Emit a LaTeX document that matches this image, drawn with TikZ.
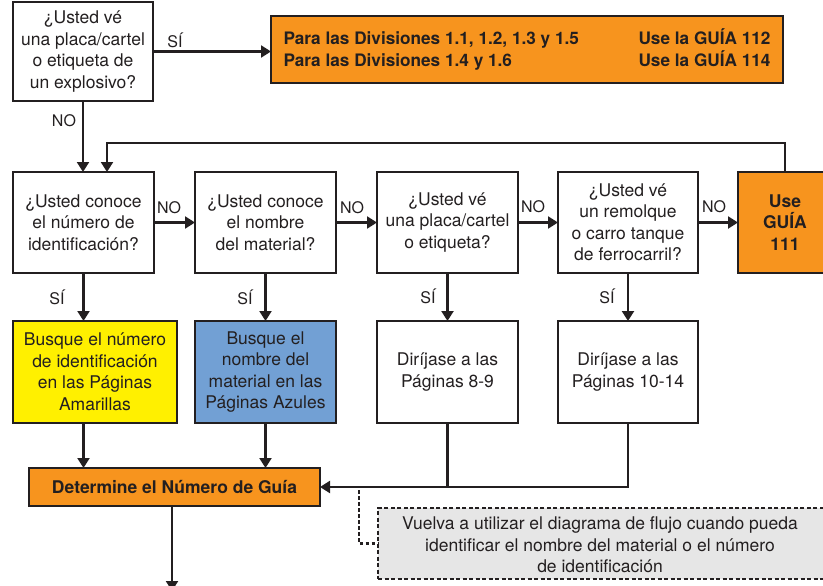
\documentclass[tikz,border=0pt]{standalone}
\usepackage{fontspec}
\setmainfont{TeX Gyre Heros}
\usetikzlibrary{arrows.meta}
\definecolor{ink}{RGB}{35,31,32}
\definecolor{guideorange}{RGB}{247,148,30}
\definecolor{idyellow}{RGB}{255,240,0}
\definecolor{nameblue}{RGB}{114,160,212}
\definecolor{notegray}{RGB}{230,230,230}
\begin{document}
\begin{tikzpicture}[x=1pt,y=-1pt,
  box/.style={draw=ink, line width=2.6pt, fill=white, text=ink, inner sep=0pt,
    outer sep=0pt, align=center, font=\fontsize{17.5}{21.5}\selectfont},
  sized/.style 2 args={minimum width=#1pt, minimum height=#2pt},
  guide/.style={box, fill=guideorange, font=\bfseries\fontsize{17.5}{21.5}\selectfont},
  link/.style={draw=ink, line width=2.2pt},
  arr/.style={link, -{Triangle[length=10pt,width=12pt]}},
  lbl/.style={text=ink, inner sep=0pt, font=\fontsize{16}{16}\selectfont},
  dotline/.style={draw=ink, line width=2.6pt, dash pattern=on 3.5pt off 2.5pt}
]
\useasboundingbox (0,0) rectangle (823,586);

% first question: explosive placard
\node[box, sized={140}{99}] (A) at (83,51.5)
  {¿Usted vé\\una placa/cartel\\o etiqueta de\\un explosivo?};
\node[guide, sized={512}{67}, font=\bfseries\fontsize{17.2}{22}\selectfont] (T) at (527,49.5)
  {\parbox{487pt}{\hbox to 487pt{Para las Divisiones 1.1, 1.2, 1.3 y 1.5\hfill Use la GUÍA 112}\par
                  \hbox to 487pt{Para las Divisiones 1.4 y 1.6\hfill Use la GUÍA 114}}};

% row of questions
\node[box, sized={141}{101}] (B) at (83.5,222.5) {¿Usted conoce\\el número de\\identificación?};
\node[box, sized={141}{101}] (C) at (265.5,222.5) {¿Usted conoce\\el nombre\\del material?};
\node[box, sized={141}{101}] (D) at (447.5,222.5) {¿Usted vé\\una placa/cartel\\o etiqueta?};
\node[box, sized={140}{101}] (E) at (628,222.5) {¿Usted vé\\un remolque\\o carro tanque\\de ferrocarril?};
\node[guide, sized={94}{101}] (F) at (785,222.5) {Use\\GUÍA\\111};

% row of lookups
\node[box, sized={164}{102}, fill=idyellow] (G) at (95,372)
  {Busque el número\\de identificación\\en las Páginas\\Amarillas};
\node[box, sized={141}{102}, fill=nameblue] (H) at (265.5,372)
  {Busque el\\nombre del\\material en las\\Páginas Azules};
\node[box, sized={141}{102}] (I) at (447.5,372) {Diríjase a las\\Páginas 8-9};
\node[box, sized={140}{102}] (J) at (628,372) {Diríjase a las\\Páginas 10-14};

% guide number
\node[guide, sized={291}{38}] (K) at (174.5,487) {Determine el Número de Guía};

% note box
\node[draw=ink, line width=2.8pt, dash pattern=on 4pt off 2.5pt, fill=notegray,
      inner sep=0pt, outer sep=0pt, minimum width=457pt, minimum height=71pt] (L) at (606.5,543.5) {};
\node[text=ink, align=center, font=\fontsize{17.5}{21.5}\selectfont] (Ltext) at (600,545)
  {Vuelva a utilizar el diagrama de flujo cuando pueda\\identificar el nombre del material o el número\\de identificación};

% connectors from the first question
\draw[arr] (A.east) -- (A.east -| T.west);
\node[lbl] (s0) at (175,40) {SÍ};
\draw[arr] (A.south) -- (A.south |- B.north);
\node[lbl] (n0) at (64,121) {NO};

% loop back from GUÍA 111
\coordinate (ret) at (107,143);
\draw[arr] (F.north) |- (ret) -- (ret |- B.north);

% NO chain
\draw[arr] (B) -- (C);
\draw[arr] (C) -- (D);
\draw[arr] (D) -- (E);
\draw[arr] (E) -- (F);
\node[lbl] (n1) at (169,208) {NO};
\node[lbl] (n2) at (352,208) {NO};
\node[lbl] (n3) at (533,207) {NO};
\node[lbl] (n4) at (714,207) {NO};

% SÍ branches
\draw[arr] (B.south) -- (B.south |- G.north);
\draw[arr] (C.south) -- (C.south |- H.north);
\draw[arr] (D.south) -- (D.south |- I.north);
\draw[arr] (E.south) -- (E.south |- J.north);
\node[lbl] (s1) at (57,297) {SÍ};
\node[lbl] (s2) at (245,297) {SÍ};
\node[lbl] (s3) at (428,296) {SÍ};
\node[lbl] (s4) at (607,296) {SÍ};

% into the guide number box
\draw[arr] (G.south -| B) -- (B |- K.north);
\draw[arr] (H.south) -- (H |- K.north);
\draw[link] (I.south) -- (I |- K);
\draw[arr] (J.south) -- (J |- K) -- (K.east);

% out of the guide number box
\coordinate (out) at (172,591);
\draw[arr] (K.south -| out) -- (out);

% dotted link to the note
\coordinate (dstart) at (359,490);
\draw[dotline] (dstart) |- (L.west);
\end{tikzpicture}
\end{document}
